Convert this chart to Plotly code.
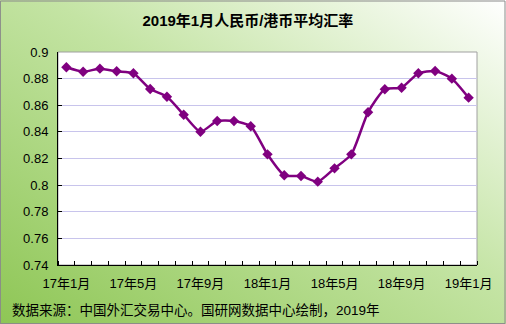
import base64
import plotly.graph_objects as go

months = ["17年1月", "17年2月", "17年3月", "17年4月", "17年5月", "17年6月", "17年7月", "17年8月",
          "17年9月", "17年10月", "17年11月", "17年12月", "18年1月", "18年2月", "18年3月", "18年4月",
          "18年5月", "18年6月", "18年7月", "18年8月", "18年9月", "18年10月", "18年11月", "18年12月", "19年1月"]
rates = [0.8885, 0.8852, 0.8875, 0.8855, 0.8840, 0.8722, 0.8664, 0.8529, 0.8401, 0.8482,
         0.8482, 0.8442, 0.8231, 0.8074, 0.8068, 0.8026, 0.8126, 0.8231, 0.8547, 0.8720,
         0.8732, 0.8840, 0.8857, 0.8800, 0.8657]
label_idx = [0, 4, 8, 12, 16, 20, 24]
y_ticks = [0.74, 0.76, 0.78, 0.80, 0.82, 0.84, 0.86, 0.88, 0.90]
y_text = ["0.74", "0.76", "0.78", "0.8", "0.82", "0.84", "0.86", "0.88", "0.9"]

W, H = 506, 324
L, R, T, B = 58, 29, 52, 59
pw, ph = W - L - R, H - T - B

svg = ('<svg xmlns="http://www.w3.org/2000/svg" width="506" height="324" preserveAspectRatio="none">'
       '<defs><linearGradient id="g" x1="0" y1="1" x2="1" y2="0">'
       '<stop offset="0" stop-color="#8ec655"/><stop offset="0.55" stop-color="#c4e4a4"/>'
       '<stop offset="1" stop-color="#ffffff"/></linearGradient></defs>'
       '<rect width="506" height="324" fill="url(#g)"/></svg>')
src = "data:image/svg+xml;base64," + base64.b64encode(svg.encode()).decode()

x = list(range(len(months)))
fig = go.Figure()
fig.add_trace(go.Scatter(
    x=x, y=rates, mode="lines+markers",
    line=dict(color="#800080", width=2.5, shape="spline", smoothing=0.6),
    marker=dict(symbol="diamond", size=8, color="#800080"),
    hoverinfo="skip", showlegend=False))

cjk = "Liberation Sans, Noto Sans CJK SC"
fig.update_layout(
    width=W, height=H,
    margin=dict(l=L, r=R, t=T, b=B),
    paper_bgcolor="rgba(0,0,0,0)",
    plot_bgcolor="white",
    title=dict(text="<b>2019年1月人民币/港币平均汇率</b>", x=0.49, xanchor="center",
               y=1 - 21 / H, yanchor="middle", font=dict(size=15, color="black", family=cjk)),
    font=dict(family=cjk, color="black"),
    images=[dict(source=src, xref="paper", yref="paper", x=-L / pw, y=1 + T / ph,
                 sizex=W / pw, sizey=H / ph, sizing="stretch", xanchor="left", yanchor="top",
                 layer="below")],
    shapes=[
        dict(type="rect", xref="paper", yref="paper", x0=0, x1=1, y0=0, y1=1,
             fillcolor="white", line=dict(color="#a0a0a0", width=1), layer="below"),
        dict(type="rect", xref="paper", yref="paper", x0=-L / pw + 0.001, x1=1 + (R - 1) / pw,
             y0=-B / ph + 0.002, y1=1 + (T - 1) / ph,
             line=dict(color="#8a8a8a", width=1), layer="above"),
    ],
    annotations=[dict(text="数据来源：中国外汇交易中心。国研网数据中心绘制，2019年",
                      xref="paper", yref="paper", x=-(L - 10) / pw, y=-(310 - T - ph) / ph,
                      xanchor="left", yanchor="middle", showarrow=False,
                      font=dict(size=13.5, color="black", family=cjk))],
)
fig.update_xaxes(range=[-0.5, len(months) - 0.5], tickmode="array",
                 tickvals=label_idx, ticktext=[months[i] for i in label_idx],
                 ticks="", showgrid=False, zeroline=False,
                 showline=True, linecolor="black", linewidth=1,
                 ticklabelstandoff=6,
                 tickfont=dict(size=13, family=cjk),
                 minor=dict(tickmode="array", tickvals=[i - 0.5 for i in range(len(months) + 1)],
                            ticks="inside", ticklen=4, tickcolor="black", showgrid=False))
fig.update_yaxes(range=[0.74, 0.90], tickmode="array", tickvals=y_ticks, ticktext=y_text,
                 ticks="inside", ticklen=4, tickcolor="black",
                 showgrid=True, gridcolor="#c8c4ec", gridwidth=1, zeroline=False,
                 showline=True, linecolor="black", linewidth=1,
                 ticklabelstandoff=6,
                 tickfont=dict(size=13, family="Liberation Sans"))
fig.write_html("out.html")
